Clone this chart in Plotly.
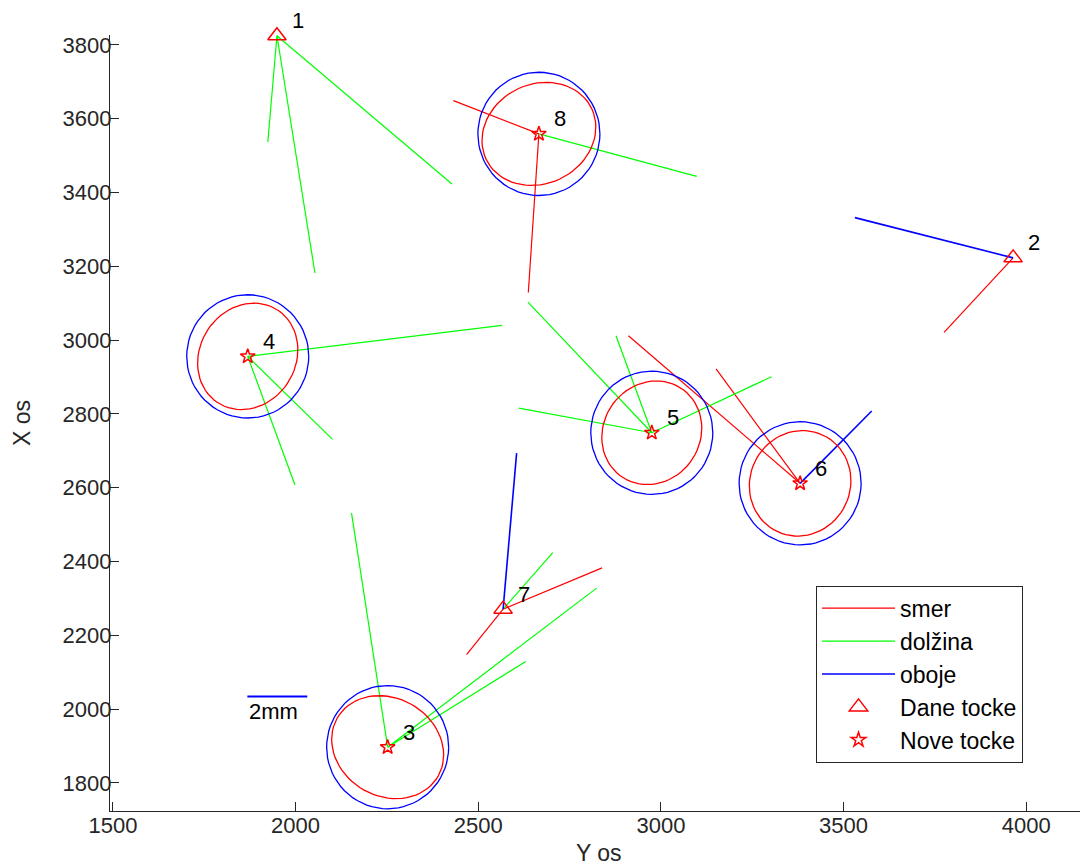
import numpy as np
import plotly.graph_objects as go

# ---------------- data ----------------
# given points (triangles): id, horizontal "Y os" value, vertical "X os" value
given_ids = ["1", "2", "7"]
given_h = [1949, 3964, 2568]
given_v = [3825, 3223, 2271]

# new points (stars)
new_ids = ["3", "4", "5", "6", "8"]
new_h = [2252, 1869, 2975, 3381, 2666]
new_v = [1897, 2956, 2749, 2612, 3559]

# "smer" (direction) segments: start point id, end coordinates
smer_from = ["8", "8", "2", "7", "7", "6", "6"]
smer_end_h = [2432, 2637, 3775, 2468, 2839, 2911, 3151]
smer_end_v = [3649, 3129, 3021, 2148, 2383, 3012, 2922]

# "dolzina" (distance) segments
dolzina_from = ["1", "1", "1", "4", "4", "4", "3", "3", "3", "7", "5", "5", "5", "5", "8"]
dolzina_end_h = [1924, 2053, 2428, 2565, 2101, 1998, 2153, 2824, 2630, 2704, 2636, 2877, 2611, 3303, 3098]
dolzina_end_v = [3537, 3182, 3423, 3040, 2731, 2608, 2532, 2328, 2129, 2424, 3103, 3012, 2816, 2901, 3444]

# "oboje" (both) segments
oboje_from = ["2", "7", "6"]
oboje_end_h = [3531, 2605, 3577]
oboje_end_v = [3332, 2694, 2808]

# error ellipses around new points
ell_ids = ["3", "4", "5", "6", "8"]
red_a = [159, 150, 145, 145, 160]
red_b = [133, 131, 132, 137, 135]
red_angle = [-29, 56, 53, 60, 25]
blue_r = [167, 167, 167, 167, 167]

# scale bar
scale_h = [1868, 2032]
scale_v = [2034, 2034]
scale_label = "2mm"

x_ticks = [1500, 2000, 2500, 3000, 3500, 4000]
y_ticks = [1800, 2000, 2200, 2400, 2600, 2800, 3000, 3200, 3400, 3600, 3800]

# ---------------- helpers ----------------
coords = {}
for i, h, v in zip(given_ids, given_h, given_v):
    coords[i] = (h, v)
for i, h, v in zip(new_ids, new_h, new_v):
    coords[i] = (h, v)


def segs(from_ids, eh, ev):
    xs, ys = [], []
    for f, h, v in zip(from_ids, eh, ev):
        h0, v0 = coords[f]
        xs += [h0, h, None]
        ys += [v0, v, None]
    return xs, ys


def ellipse(cx, cy, a, b, ang_deg, n=73):
    t = np.linspace(0, 2 * np.pi, n)
    th = np.deg2rad(ang_deg)
    x = cx + a * np.cos(th) * np.cos(t) - b * np.sin(th) * np.sin(t)
    y = cy + a * np.sin(th) * np.cos(t) + b * np.cos(th) * np.sin(t)
    return list(x), list(y)


RED = "#FF0000"
GREEN = "#00FF00"
BLUE = "#0000FF"
AX = "#262626"
FONT = "Liberation Sans"

fig = go.Figure()

sx, sy = segs(smer_from, smer_end_h, smer_end_v)
fig.add_trace(go.Scatter(x=sx, y=sy, mode="lines", name="smer",
                         line=dict(color=RED, width=1.2)))
dx, dy = segs(dolzina_from, dolzina_end_h, dolzina_end_v)
fig.add_trace(go.Scatter(x=dx, y=dy, mode="lines", name="dolžina",
                         line=dict(color=GREEN, width=1.2)))
ox, oy = segs(oboje_from, oboje_end_h, oboje_end_v)
fig.add_trace(go.Scatter(x=ox, y=oy, mode="lines", name="oboje",
                         line=dict(color=BLUE, width=1.6)))

# ellipses
ex_r, ey_r, ex_b, ey_b = [], [], [], []
for i, a, b, ang, r in zip(ell_ids, red_a, red_b, red_angle, blue_r):
    cx, cy = coords[i]
    xr, yr = ellipse(cx, cy, a, b, ang)
    ex_r += xr + [None]
    ey_r += yr + [None]
    xb, yb = ellipse(cx, cy, r, r, 0)
    ex_b += xb + [None]
    ey_b += yb + [None]
fig.add_trace(go.Scatter(x=ex_b, y=ey_b, mode="lines", showlegend=False,
                         line=dict(color=BLUE, width=1.3), hoverinfo="skip"))
fig.add_trace(go.Scatter(x=ex_r, y=ey_r, mode="lines", showlegend=False,
                         line=dict(color=RED, width=1.3), hoverinfo="skip"))

# scale bar
fig.add_trace(go.Scatter(x=scale_h, y=scale_v, mode="lines", showlegend=False,
                         line=dict(color=BLUE, width=2), hoverinfo="skip"))

# points
fig.add_trace(go.Scatter(x=given_h, y=given_v, mode="markers", name="Dane tocke",
                         marker=dict(symbol="triangle-up-open", size=16, color=RED,
                                     line=dict(width=1.5, color=RED)),
                         cliponaxis=False))
fig.add_trace(go.Scatter(x=new_h, y=new_v, mode="markers", name="Nove tocke",
                         marker=dict(symbol="star-open", size=11, color=RED,
                                     line=dict(width=1.5, color=RED)),
                         cliponaxis=False))

annotations = []
# point number labels: anchored on the point, shifted up-right in pixels
for i, (h, v) in coords.items():
    annotations.append(dict(x=h, y=v, text=i, showarrow=False,
                            xanchor="left", yanchor="middle", xshift=13, yshift=15,
                            font=dict(family=FONT, size=22, color="#000000")))
annotations.append(dict(x=scale_h[0], y=1995, text=scale_label, showarrow=False,
                        xanchor="left", yanchor="middle",
                        font=dict(family=FONT, size=22, color="#000000")))
annotations.append(dict(x=0.5, y=-0.054, xref="paper", yref="paper", text="Y os",
                        showarrow=False, xanchor="center", yanchor="middle",
                        font=dict(family=FONT, size=23, color=AX)))
annotations.append(dict(x=-0.09, y=0.5, xref="paper", yref="paper", text="X os",
                        showarrow=False, xanchor="center", yanchor="middle", textangle=-90,
                        font=dict(family=FONT, size=23, color=AX)))

# page body has an 8px margin: compensate so the plot area lands at 110..1088 x 35..803
fig.update_layout(
    width=1080, height=859,
    margin=dict(l=102, r=0, t=27, b=56),
    paper_bgcolor="white", plot_bgcolor="white",
    font=dict(family=FONT, size=22, color=AX),
    annotations=annotations,
    legend=dict(x=0.7219, y=0.2903, xanchor="left", yanchor="top",
                bordercolor=AX, borderwidth=1, bgcolor="white", itemwidth=73,
                font=dict(family=FONT, size=23, color="#000000")),
    xaxis=dict(range=[1492, 4169], tickvals=x_ticks, ticks="inside", ticklen=9,
               tickcolor=AX, showline=True, linecolor=AX, linewidth=1.2,
               ticklabelstandoff=-6,
               showgrid=False, zeroline=False, tickfont=dict(size=22, color=AX)),
    yaxis=dict(range=[1724, 3827], tickvals=y_ticks, ticks="inside", ticklen=9,
               tickcolor=AX, showline=True, linecolor=AX, linewidth=1.2,
               ticklabelstandoff=-7,
               showgrid=False, zeroline=False, tickfont=dict(size=22, color=AX)),
)

fig.write_html("out.html")
